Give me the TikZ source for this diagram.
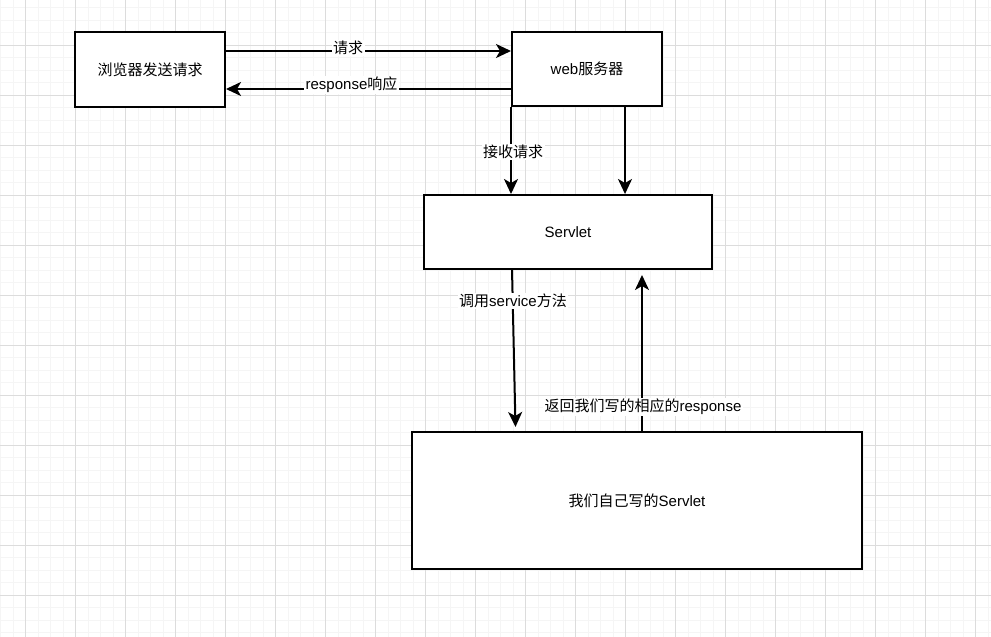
\documentclass[tikz,border=0pt]{standalone}
\usepackage{fontspec}
\setmainfont{Liberation Sans}
\newfontfamily\cjk{Noto Sans CJK SC}
\usetikzlibrary{arrows.meta,calc}
\definecolor{minorgrid}{HTML}{F5F5F5}
\definecolor{majorgrid}{HTML}{DCDCDC}
\tikzset{
  box/.style={draw=black, line width=2pt, fill=white, rectangle, inner sep=0pt},
  conn/.style={draw=black, line width=2pt, -{Stealth[length=15pt,width=14pt,inset=4pt]}},
  lbl/.style={fill=white, inner sep=1.5pt, text=black},
  minorline/.style={draw=minorgrid, line width=1pt},
  majorline/.style={draw=majorgrid, line width=1pt}
}
\begin{document}
\begin{tikzpicture}[x=1pt, y=-1pt, font=\fontsize{15}{18}\selectfont]
\useasboundingbox (0,0) rectangle (991,637);
\fill[white] (0,0) rectangle (991,637);
% grid
\foreach \x in {0.5,13,...,991} \draw[minorline] (\x,0) -- (\x,637);
\foreach \y in {7.5,20,...,637} \draw[minorline] (0,\y) -- (991,\y);
\foreach \x in {25.5,75.5,...,991} \draw[majorline] (\x,0) -- (\x,637);
\foreach \y in {45.5,95.5,...,637} \draw[majorline] (0,\y) -- (991,\y);
% boxes
\node[box, minimum width=150pt, minimum height=75pt] (browser) at (150,69.5) {{\cjk 浏览器发送请求}};
\node[box, minimum width=150pt, minimum height=74pt] (web) at (587,69) {web{\cjk 服务器}};
\node[box, minimum width=288pt, minimum height=74pt] (servlet) at (568,232) {Servlet};
\node[box, minimum width=450pt, minimum height=137pt] (mine) at (637,500.5) {{\cjk 我们自己写的}Servlet};
% connectors
\draw[conn] (browser.east |- 0,51) -- (web.west |- 0,51);
\node[lbl] (l1) at (348,48) {{\cjk 请求}};
\draw[conn] (web.west |- 0,89) -- (browser.east |- 0,89);
\node[lbl] (l2) at (351.5,85) {response{\cjk 响应}};
\draw[conn] (web.south west) -- (web.south west |- servlet.north);
\node[lbl] (l3) at (513,152) {{\cjk 接收请求}};
\coordinate (w2) at ($(web.south west)!0.75!(web.south east)$);
\draw[conn] (w2) -- (w2 |- servlet.north);
\coordinate (s1) at (512,269);
\coordinate (e1) at (515.5,427);
\draw[conn] (s1) -- (e1);
\node[lbl] (l4) at (513,301) {{\cjk 调用}service{\cjk 方法}};
\coordinate (m1) at (642,432);
\coordinate (e2) at (642,275);
\draw[conn] (m1) -- (e2);
\node[lbl] (l5) at (643,407) {{\cjk 返回我们写的相应的}response};
\end{tikzpicture}
\end{document}
